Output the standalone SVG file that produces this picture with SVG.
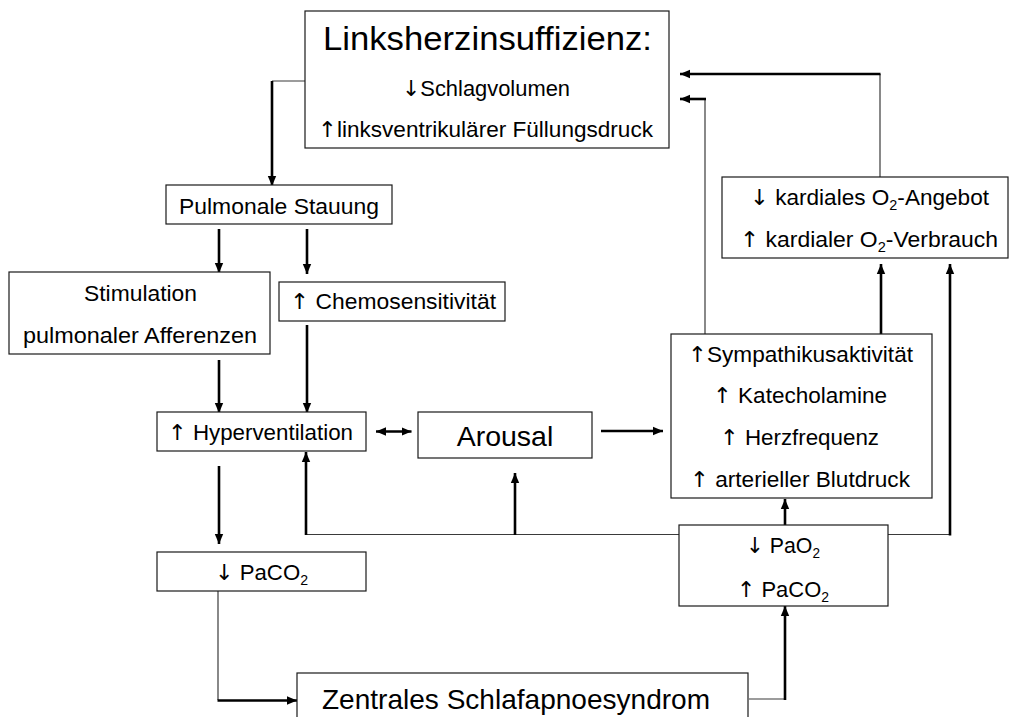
<svg xmlns="http://www.w3.org/2000/svg" width="1010" height="717" viewBox="0 0 1010 717">
<defs>
<marker id="ah" markerUnits="userSpaceOnUse" markerWidth="10" markerHeight="10" viewBox="0 0 10 10" refX="10" refY="5" orient="auto-start-reverse">
<path d="M0,0.8 L10,5 L0,9.2 z" fill="#000"/>
</marker>
<style>
.box{fill:#fff;stroke:#1a1a1a;stroke-width:1.2}
.t{font-family:"Liberation Sans",Arial,sans-serif;font-size:22px;fill:#000}
.ar{font-family:"DejaVu Sans",sans-serif;font-variant-emoji:text;fill:#000}
.big{font-size:28.5px}
.title{font-size:34px}
.sub{font-size:14px}
.thin{fill:none;stroke:#3a3a3a;stroke-width:1.2}
.arr{fill:none;stroke:#000;stroke-width:2.6;marker-end:url(#ah)}
</style>
</defs>
<rect width="1010" height="717" fill="#fff"/>

<g id="connectors">
<polyline class="thin" points="305,81 272,81"/>
<line class="arr" x1="272" y1="81" x2="272" y2="186"/>
<line class="arr" x1="219" y1="229" x2="219" y2="273"/>
<line class="arr" x1="307" y1="229" x2="307" y2="274"/>
<line class="arr" x1="219" y1="360" x2="219" y2="413"/>
<line class="arr" x1="307" y1="325" x2="307" y2="413"/>
<line class="arr" x1="376" y1="431.5" x2="411.5" y2="431.5" marker-start="url(#ah)"/>
<line class="arr" x1="601" y1="431" x2="663" y2="431"/>
<line class="arr" x1="219" y1="466" x2="219" y2="544"/>
<line class="thin" x1="306" y1="534.5" x2="679" y2="534.5"/>
<line class="arr" x1="306" y1="535" x2="306" y2="452"/>
<line class="arr" x1="515" y1="535" x2="515" y2="473"/>
<line class="arr" x1="785" y1="525" x2="785" y2="499"/>
<line class="thin" x1="888" y1="534.5" x2="950" y2="534.5"/>
<line class="arr" x1="950" y1="535.5" x2="950" y2="264"/>
<line class="arr" x1="881" y1="334" x2="881" y2="264"/>
<line class="thin" x1="880" y1="177" x2="880" y2="74"/>
<line class="arr" x1="880.5" y1="74" x2="680" y2="74"/>
<line class="thin" x1="705" y1="334" x2="705" y2="99"/>
<line class="arr" x1="706" y1="99" x2="680" y2="99"/>
<line class="thin" x1="218" y1="591" x2="218" y2="700"/>
<line class="arr" x1="217.5" y1="700.5" x2="297" y2="700.5"/>
<line class="thin" x1="749" y1="699" x2="785" y2="699"/>
<line class="arr" x1="785" y1="700" x2="785" y2="606"/>
</g>

<g id="n-links">
<rect class="box" x="305" y="11" width="364" height="137"/>
<text class="t title" x="323" y="50" textLength="329" lengthAdjust="spacingAndGlyphs">Linksherzinsuffizienz:</text>
<text class="t" x="402" y="96" textLength="168" lengthAdjust="spacingAndGlyphs"><tspan class="ar">↓</tspan>Schlagvolumen</text>
<text class="t" x="318" y="137" textLength="335" lengthAdjust="spacingAndGlyphs"><tspan class="ar">↑</tspan>linksventrikulärer Füllungsdruck</text>
</g>

<g id="n-pulm">
<rect class="box" x="166" y="185" width="226" height="39"/>
<text class="t" x="179" y="214" textLength="200" lengthAdjust="spacingAndGlyphs">Pulmonale Stauung</text>
</g>

<g id="n-stim">
<rect class="box" x="9" y="272" width="261" height="82"/>
<text class="t" x="84" y="301" textLength="113" lengthAdjust="spacingAndGlyphs">Stimulation</text>
<text class="t" x="23" y="343" textLength="234" lengthAdjust="spacingAndGlyphs">pulmonaler Afferenzen</text>
</g>

<g id="n-chemo">
<rect class="box" x="279" y="282" width="226" height="39"/>
<text class="t" x="290" y="308.5" textLength="206" lengthAdjust="spacingAndGlyphs"><tspan class="ar">↑</tspan> Chemosensitivität</text>
</g>

<g id="n-hyper">
<rect class="box" x="157" y="412" width="209" height="39"/>
<text class="t" x="168" y="440" textLength="185" lengthAdjust="spacingAndGlyphs"><tspan class="ar">↑</tspan> Hyperventilation</text>
</g>

<g id="n-arousal">
<rect class="box" x="418" y="412" width="174" height="46"/>
<text class="t big" x="505" y="446" text-anchor="middle">Arousal</text>
</g>

<g id="n-symp">
<rect class="box" x="671" y="334" width="261" height="164"/>
<text class="t" x="688" y="362" textLength="225" lengthAdjust="spacingAndGlyphs"><tspan class="ar">↑</tspan>Sympathikusaktivität</text>
<text class="t" x="713" y="403" textLength="174" lengthAdjust="spacingAndGlyphs"><tspan class="ar">↑</tspan> Katecholamine</text>
<text class="t" x="720" y="445" textLength="159" lengthAdjust="spacingAndGlyphs"><tspan class="ar">↑</tspan> Herzfrequenz</text>
<text class="t" x="690" y="487" textLength="220" lengthAdjust="spacingAndGlyphs"><tspan class="ar">↑</tspan> arterieller Blutdruck</text>
</g>

<g id="n-o2">
<rect class="box" x="722" y="177" width="286" height="81"/>
<text class="t" x="750" y="205" textLength="239" lengthAdjust="spacingAndGlyphs"><tspan class="ar">↓</tspan> kardiales O<tspan class="sub" dy="5">2</tspan><tspan dy="-5">-Angebot</tspan></text>
<text class="t" x="740" y="247" textLength="258" lengthAdjust="spacingAndGlyphs"><tspan class="ar">↑</tspan> kardialer O<tspan class="sub" dy="5">2</tspan><tspan dy="-5">-Verbrauch</tspan></text>
</g>

<g id="n-pao2">
<rect class="box" x="679" y="525" width="209" height="81"/>
<text class="t" x="746" y="553" textLength="74" lengthAdjust="spacingAndGlyphs"><tspan class="ar">↓</tspan> PaO<tspan class="sub" dy="5">2</tspan></text>
<text class="t" x="737" y="596.5" textLength="92" lengthAdjust="spacingAndGlyphs"><tspan class="ar">↑</tspan> PaCO<tspan class="sub" dy="5">2</tspan></text>
</g>

<g id="n-paco2">
<rect class="box" x="157" y="552" width="209" height="39"/>
<text class="t" x="215" y="580" textLength="93" lengthAdjust="spacingAndGlyphs"><tspan class="ar">↓</tspan> PaCO<tspan class="sub" dy="5">2</tspan></text>
</g>

<g id="n-zsas">
<rect class="box" x="297" y="673" width="451" height="70"/>
<text class="t big" x="322" y="709" textLength="388" lengthAdjust="spacingAndGlyphs">Zentrales Schlafapnoesyndrom</text>
</g>
</svg>
